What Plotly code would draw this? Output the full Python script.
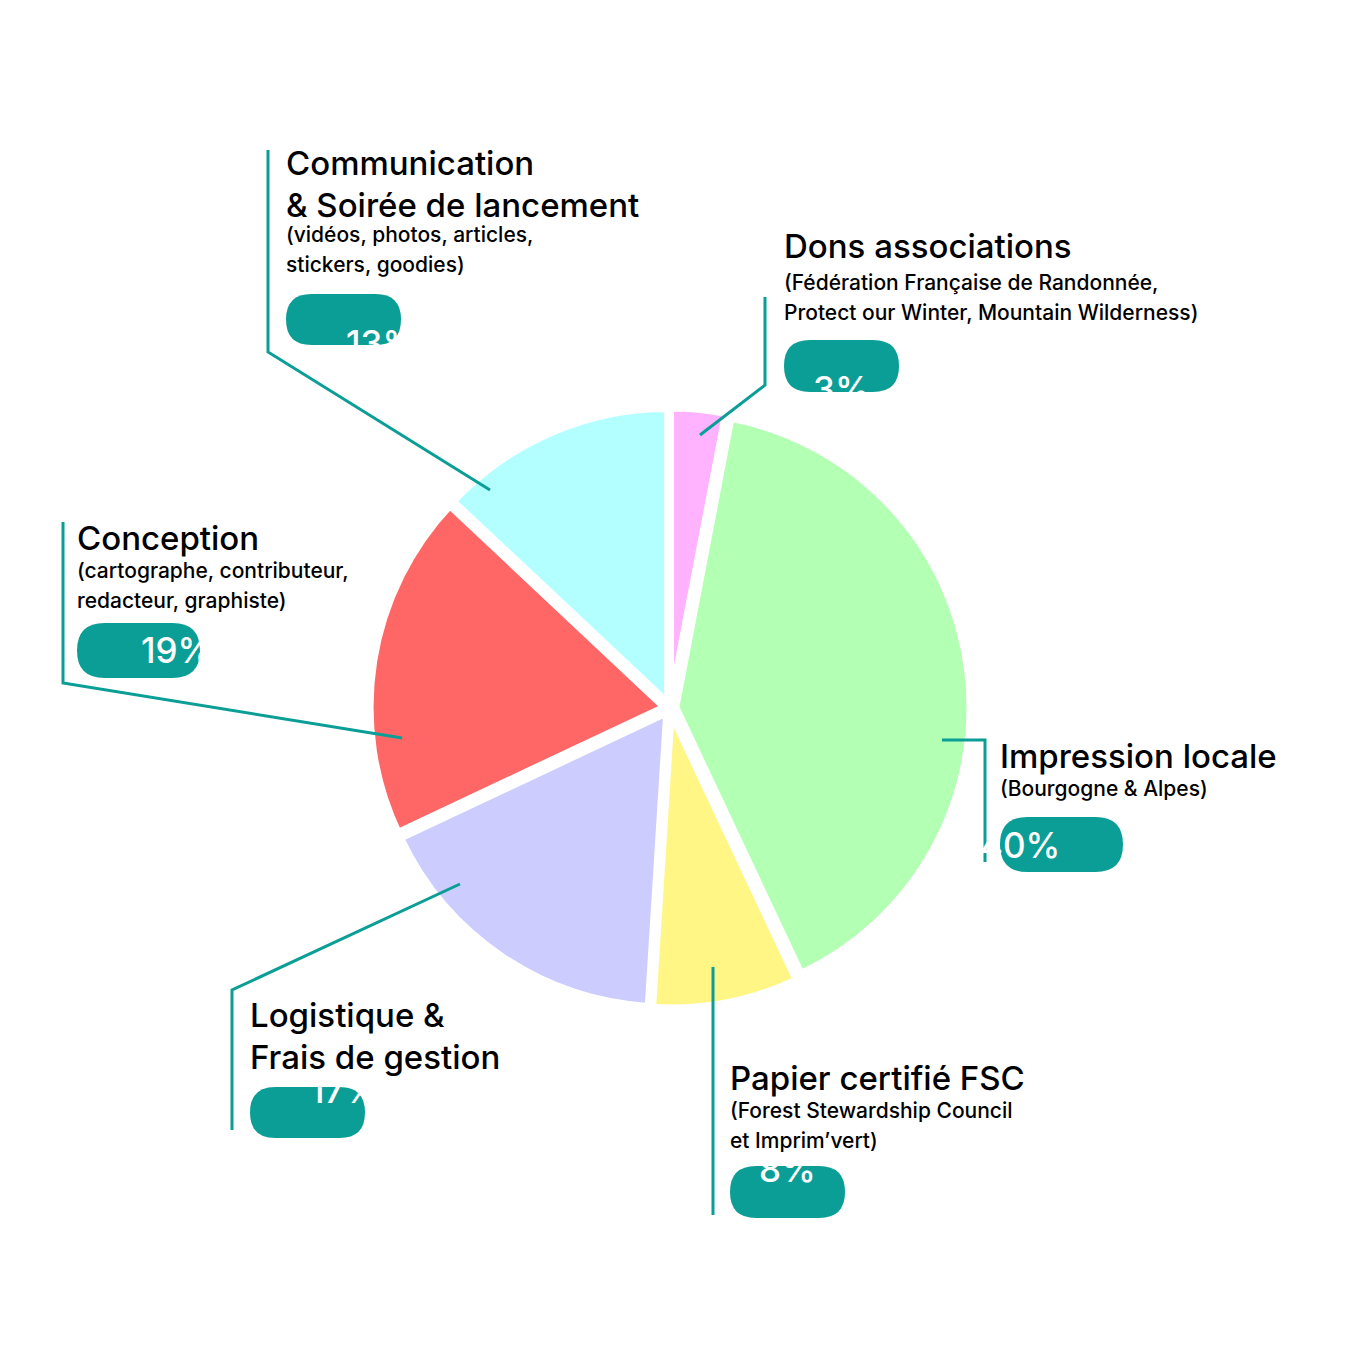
import plotly.graph_objects as go

# Données
postes = ['Dons associations', 'Impression locale', 'Papier certifié FSC',
          'Logistique & Frais de gestion', 'Conception', 'Communication & Soirée de lancement']
parts = [3, 40, 8, 17, 19, 13]
couleurs = ['#ffb3ff', '#b3ffb3', '#fff686', '#ccccff', '#ff6666', '#b3ffff']
titres = [['Dons associations'], ['Impression locale'], ['Papier certifié FSC'],
          ['Logistique &', 'Frais de gestion'], ['Conception'],
          ['Communication', '& Soirée de lancement']]
details = [['(Fédération Française de Randonnée,', 'Protect our Winter, Mountain Wilderness)'],
           ['(Bourgogne & Alpes)'],
           ['(Forest Stewardship Council', 'et Imprim’vert)'],
           [],
           ['(cartographe, contributeur,', 'redacteur, graphiste)'],
           ['(vidéos, photos, articles,', 'stickers, goodies)']]

TEAL = '#0a9e96'
W = 1354
DX, DY = 8, 8  # décalage de la page

def px(x):
    return (x - DX) / W

def py(y):
    return 1 - (y - DY) / W

# positions (pixels) : titre, détail, badge, ligne
mise_en_page = [
    dict(t=(784, 228), d=(784, 272), b=(784, 340, 899, 392),
         l=[(700, 435), (765, 385), (765, 297)]),
    dict(t=(1000, 738), d=(1000, 778), b=(1000, 817, 1123, 872),
         l=[(942, 740), (985, 740), (985, 862)]),
    dict(t=(730, 1060), d=(730, 1100), b=(730, 1166, 845, 1218),
         l=[(713, 967), (713, 1215)]),
    dict(t=(250, 997), d=None, b=(250, 1087, 365, 1138),
         l=[(460, 884), (232, 990), (232, 1130)]),
    dict(t=(77, 520), d=(77, 560), b=(77, 623, 200, 678),
         l=[(402, 738), (63, 683), (63, 522)]),
    dict(t=(286, 145), d=(286, 224), b=(286, 294, 401, 345),
         l=[(490, 490), (268, 352), (268, 150)]),
]

cx, cy, r = 670, 708, 300

fig = go.Figure(go.Pie(
    labels=postes, values=parts, sort=False, direction='clockwise', rotation=0,
    marker=dict(colors=couleurs, line=dict(color='white', width=7)),
    textinfo='none', hoverinfo='label+percent', pull=[0.02] * 6,
    domain=dict(x=[px(cx - r), px(cx + r)], y=[py(cy + r), py(cy - r)]),
    showlegend=False,
))

def badge_path(x0, y0, x1, y1):
    rr = (y1 - y0) / 2
    return (f'M {px(x0 + rr)} {py(y0)} L {px(x1 - rr)} {py(y0)} '
            f'Q {px(x1)} {py(y0)} {px(x1)} {py(y0 + rr)} '
            f'Q {px(x1)} {py(y1)} {px(x1 - rr)} {py(y1)} '
            f'L {px(x0 + rr)} {py(y1)} '
            f'Q {px(x0)} {py(y1)} {px(x0)} {py(y0 + rr)} '
            f'Q {px(x0)} {py(y0)} {px(x0 + rr)} {py(y0)} Z')

def texte(x, y, t, size):
    return dict(x=px(x), y=py(y), xref='paper', yref='paper',
                xanchor='left', yanchor='top', align='left', showarrow=False, text=t,
                font=dict(family='Inter', size=size, color='black', weight=500))

shapes = []
annotations = []
for i, m in enumerate(mise_en_page):
    pts = m['l']
    path = 'M ' + ' L '.join(f'{px(x)} {py(y)}' for x, y in pts)
    shapes.append(dict(type='path', path=path, xref='paper', yref='paper',
                       line=dict(color=TEAL, width=3)))
    x0, y0, x1, y1 = m['b']
    shapes.append(dict(type='path', path=badge_path(x0, y0, x1, y1), xref='paper', yref='paper',
                       fillcolor=TEAL, line=dict(width=0), layer='below'))
    annotations.append(dict(x=px((x0 + x1) / 2), y=py((y0 + y1) / 2), xref='paper', yref='paper',
                            text=f'{parts[i]}%', showarrow=False,
                            font=dict(family='Inter', size=35, color='white', weight=500)))
    for k, ligne in enumerate(titres[i]):
        annotations.append(texte(m['t'][0] - 2, m['t'][1] + 42 * k - 4, ligne, 33))
    if m['d']:
        for k, ligne in enumerate(details[i]):
            annotations.append(texte(m['d'][0] - 2, m['d'][1] + 30 * k - 4, ligne, 21))

fig.update_layout(width=W, height=W, margin=dict(l=0, r=0, t=0, b=0),
                  paper_bgcolor='white', plot_bgcolor='white',
                  shapes=shapes, annotations=annotations)

fig.write_html('out.html')
